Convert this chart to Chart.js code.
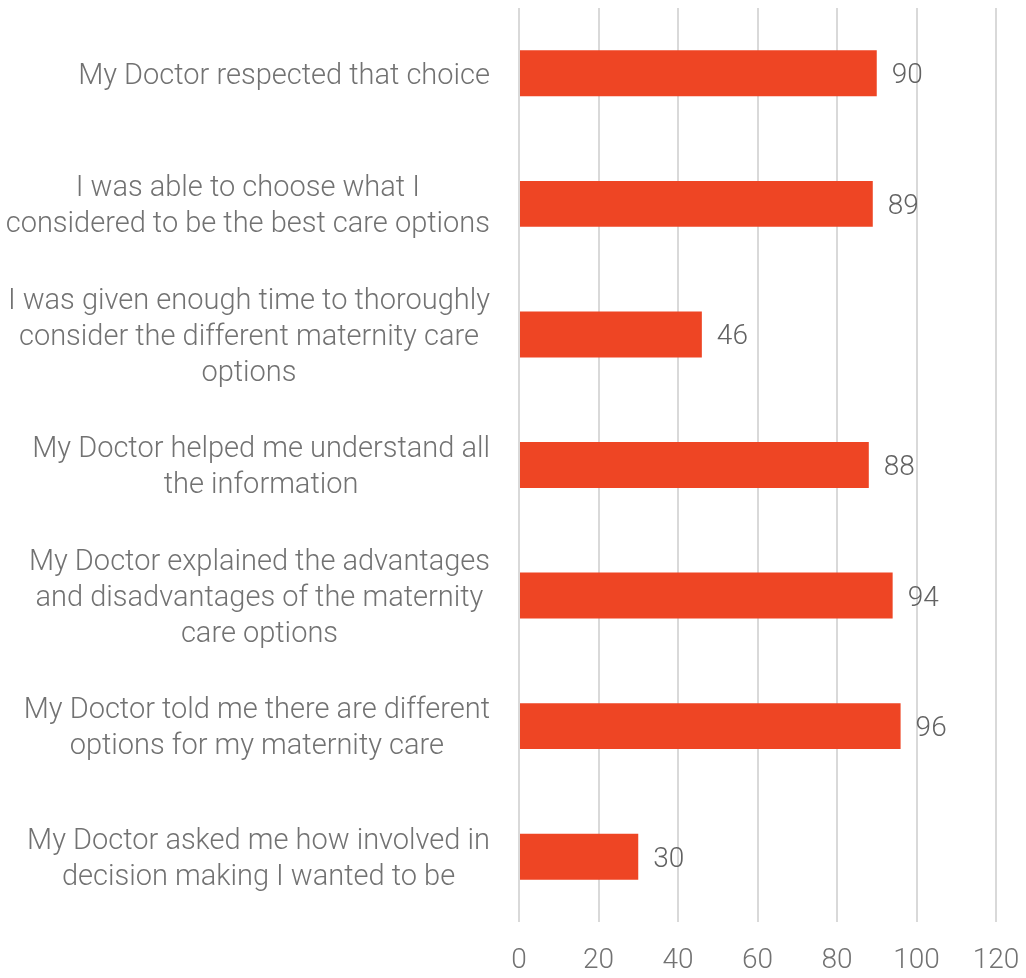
<!DOCTYPE html>
<html>
<head>
<meta charset="utf-8">
<script src="https://cdn.jsdelivr.net/npm/chart.js@4"></script>
<style>
  html, body { margin: 0; padding: 0; background: #fff; overflow: hidden; }
  #wrap { width: 1026px; height: 978px; }
  canvas { display: block; }
</style>
</head>
<body>
<div id="wrap"><canvas id="chart"></canvas></div>
<script>
const categories = [
  ["My Doctor respected that choice"],
  ["I was able to choose what I", "considered to be the best care options"],
  ["I was given enough time to thoroughly", "consider the different maternity care", "options"],
  ["My Doctor helped me understand all", "the information"],
  ["My Doctor explained the advantages", "and disadvantages of the maternity", "care options"],
  ["My Doctor told me there are different", "options for my maternity care"],
  ["My Doctor asked me how involved in", "decision making I wanted to be"]
];
const values = [90, 89, 46, 88, 94, 96, 30];
const xTicks = [0, 20, 40, 60, 80, 100, 120];

const FONT = "Roboto";
const textGray = "#727272";

// category labels: each block centred on itself, block right-aligned to the axis
const labelPlugin = {
  id: "catLabels",
  afterDraw(chart) {
    const ctx = chart.ctx;
    const y = chart.scales.y;
    const right = chart.chartArea.left - 29;
    const lineH = 36;
    ctx.save();
    ctx.font = "300 29px " + FONT;
    ctx.fillStyle = textGray;
    ctx.textAlign = "center";
    ctx.textBaseline = "middle";
    categories.forEach((lines, i) => {
      const py = y.getPixelForTick(i) + 3;
      const w = Math.max(...lines.map(l => ctx.measureText(l).width));
      const cx = right - w / 2;
      lines.forEach((l, j) => {
        ctx.fillText(l, cx, py + (j - (lines.length - 1) / 2) * lineH);
      });
    });
    ctx.restore();
  }
};

// value labels at the bar ends
const valuePlugin = {
  id: "valLabels",
  afterDatasetsDraw(chart) {
    const ctx = chart.ctx;
    const meta = chart.getDatasetMeta(0);
    ctx.save();
    ctx.font = "300 28px " + FONT;
    ctx.fillStyle = "#626262";
    ctx.textAlign = "left";
    ctx.textBaseline = "middle";
    meta.data.forEach((bar, i) => {
      ctx.fillText(String(values[i]), bar.x + 15, bar.y + 3);
    });
    ctx.restore();
  }
};

new Chart(document.getElementById("chart"), {
  type: "bar",
  data: {
    labels: categories.map((c, i) => "c" + i),
    datasets: [{
      data: values,
      backgroundColor: "#ee4524",
      borderWidth: 0,
      categoryPercentage: 1,
      barPercentage: 0.352
    }]
  },
  options: {
    indexAxis: "y",
    responsive: true,
    maintainAspectRatio: false,
    animation: false,
    layout: { padding: { top: 8, right: 30, bottom: 0, left: 0 } },
    plugins: { legend: { display: false }, tooltip: { enabled: false } },
    scales: {
      x: {
        min: 0,
        max: 120,
        afterBuildTicks: s => { s.ticks = xTicks.map(v => ({ value: v })); },
        afterFit: s => { s.height = 56; s.paddingRight = 0; s.paddingLeft = 0; },
        grid: { color: "#d9d9d9", lineWidth: 2, drawTicks: false },
        border: { display: false },
        ticks: { padding: 22, color: textGray, font: { family: FONT, size: 28, weight: 300 } }
      },
      y: {
        grid: { display: false },
        border: { display: false },
        ticks: { display: false },
        afterFit: s => { s.width = 519; }
      }
    }
  },
  plugins: [labelPlugin, valuePlugin]
});
</script>
</body>
</html>
